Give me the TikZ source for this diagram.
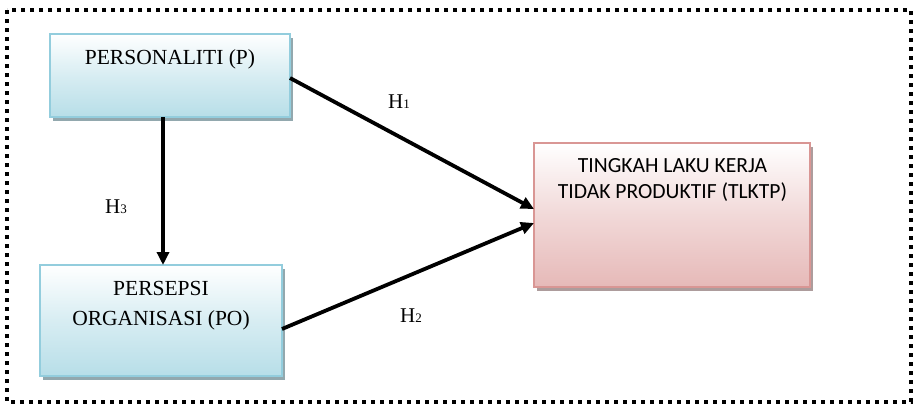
\documentclass[tikz,border=0pt]{standalone}
\usepackage{fontspec}
\setmainfont{Liberation Serif}
\newfontfamily\calib{Carlito}
\usetikzlibrary{arrows.meta,shadows}
\definecolor{bluefill}{HTML}{B7DEE8}
\definecolor{blueline}{HTML}{93CDDD}
\definecolor{blueshadow}{HTML}{92A8AE}
\definecolor{pinkfill}{HTML}{E6B9B8}
\definecolor{pinkline}{HTML}{D99694}
\definecolor{pinkshadow}{HTML}{AD9C9C}
\tikzset{
  bluebox/.style={draw=blueline, line width=1.8pt, inner sep=0pt, outer sep=0pt,
    top color=white, bottom color=bluefill, middle color=bluefill!55,
    drop shadow={shadow xshift=3pt, shadow yshift=-4pt, fill=blueshadow, opacity=1}},
  pinkbox/.style={draw=pinkline, line width=1.8pt, inner sep=0pt, outer sep=0pt,
    top color=white, bottom color=pinkfill, middle color=pinkfill!55,
    drop shadow={shadow xshift=3pt, shadow yshift=-4pt, fill=pinkshadow, opacity=1}},
  seriftxt/.style={inner sep=0pt, font=\fontsize{21.5}{30}\selectfont},
  sanstxt/.style={inner sep=0pt, font=\calib\fontsize{21.6}{26}\selectfont},
  hlabel/.style={inner sep=0pt, anchor=base west, font=\fontsize{21}{24}\selectfont},
  arr/.style={line width=3.8pt, -{Triangle[length=13pt,width=12pt]}},
  frame/.style={line width=4pt, dash pattern=on 4pt off 5pt}
}
\newcommand{\hsub}[1]{H{\fontsize{13}{13}\selectfont #1}}
\begin{document}
\begin{tikzpicture}[x=1pt,y=-1pt]
\useasboundingbox (0,0) rectangle (915,408);
\draw[frame] (7,10) rectangle (911,402);

\node[bluebox, minimum width=240pt, minimum height=83pt] (P) at (170,75.5) {};
\node[bluebox, minimum width=242pt, minimum height=111pt] (PO) at (161,320.5) {};
\node[pinkbox, minimum width=276pt, minimum height=144pt] (T) at (672,215) {};

\node[seriftxt, anchor=base] (Ptxt) at (170,64) {PERSONALITI (P)};
\node[seriftxt, anchor=base] (POtxt1) at (161,295) {PERSEPSI};
\node[seriftxt, anchor=base] (POtxt2) at (161,325) {ORGANISASI (PO)};
\node[sanstxt, anchor=base] (Ttxt1) at (672.5,172) {TINGKAH LAKU KERJA};
\node[sanstxt, anchor=base] (Ttxt2) at (672.5,198) {TIDAK PRODUKTIF (TLKTP)};

\draw[arr] ([xshift=-7pt]P.south) -- ([xshift=-7pt]P.south |- PO.north);
\draw[arr] ([yshift=-2.5pt]P.east) -- ([yshift=6pt]T.west);
\draw[arr] ([yshift=-8.5pt]PO.east) -- ([yshift=-8pt]T.west);

\node[hlabel] (H1) at (388,108) {\hsub{1}};
\node[hlabel] (H2) at (400,322) {\hsub{2}};
\node[hlabel] (H3) at (105,213) {\hsub{3}};
\end{tikzpicture}
\end{document}
